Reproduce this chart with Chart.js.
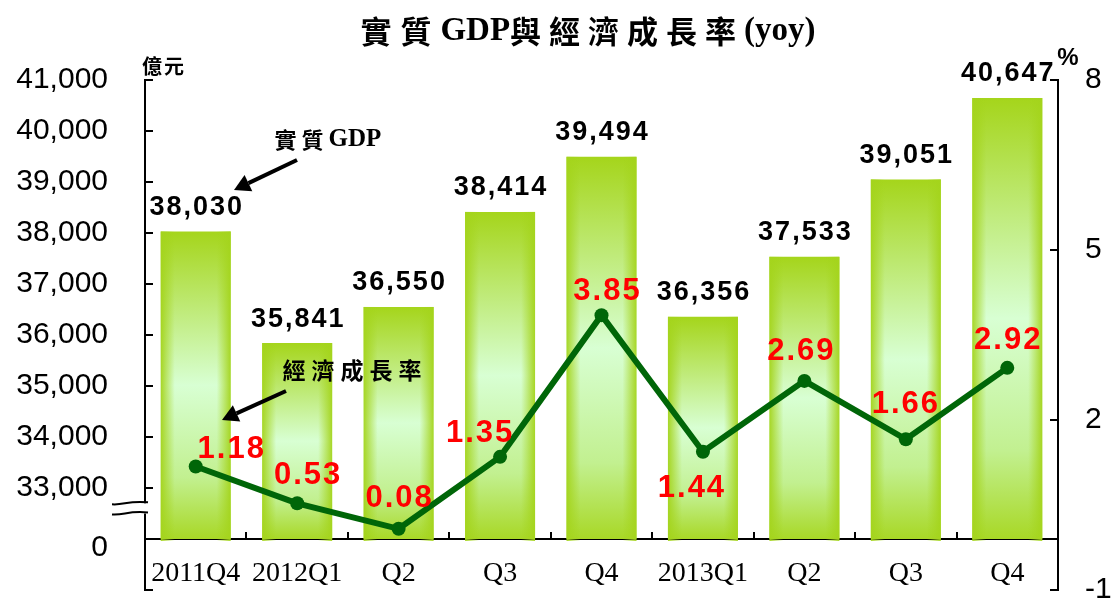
<!DOCTYPE html>
<html lang="zh-Hant">
<head>
<meta charset="UTF-8">
<title>實質GDP與經濟成長率(yoy)</title>
<script src="https://cdn.jsdelivr.net/npm/chart.js"></script>
<style>
    body { margin: 0; background: #ffffff; }
    #wrap { width: 1112px; height: 599px; }
</style>
</head>
<body>
<div id="wrap"><canvas id="gdpChart" width="1112" height="599"></canvas></div>
<script>
const quarters = ['2011Q4', '2012Q1', 'Q2', 'Q3', 'Q4', '2013Q1', 'Q2', 'Q3', 'Q4'];
const realGdp = [38030, 35841, 36550, 38414, 39494, 36356, 37533, 39051, 40647];   // 億元
const growthRate = [1.18, 0.53, 0.08, 1.35, 3.85, 1.44, 2.69, 1.66, 2.92];        // %
const gdpTicks = [33000, 34000, 35000, 36000, 37000, 38000, 39000, 40000, 41000];
const growthTicks = [-1, 2, 5, 8];
const gdpBase = 32000;    // the "0" line, axis is broken below 33,000
const zeroLabelAt = 31820;

// where each red growth label sits relative to its point (px)
const growthLabelOffsets = [[35, -17], [10, -28], [0, -30], [-21, -23], [5, -24], [-12, 37], [-4, -29], [-1, -35], [0, -27]];

const CJK = '"Noto Sans CJK TC", "Noto Sans CJK SC"';
const SERIF = '"Liberation Serif", "Times New Roman", serif';
const SANS = '"Liberation Sans", Arial, sans-serif';

function barFill(context) {
    const chart = context.chart;
    const y = chart.scales.y;
    if (!chart.chartArea || !y) return '#bde86a';
    const top = y.getPixelForValue(context.raw);
    const bottom = y.getPixelForValue(gdpBase);
    const g = chart.ctx.createLinearGradient(0, top, 0, bottom);
    g.addColorStop(0, '#a5d51b');
    g.addColorStop(0.5, '#d8ffd3');
    g.addColorStop(0.8, '#c2f090');
    g.addColorStop(1, '#a8d826');
    return g;
}

// darker green at the sides of each bar
const barShade = {
    id: 'barShade',
    afterDatasetDraw(chart, args) {
        if (args.meta.type !== 'bar') return;
        const ctx = chart.ctx;
        args.meta.data.forEach(bar => {
            const p = bar.getProps(['x', 'y', 'base', 'width'], true);
            const left = p.x - p.width / 2;
            const g = ctx.createLinearGradient(left, 0, left + p.width, 0);
            g.addColorStop(0, 'rgba(164,212,28,0.95)');
            g.addColorStop(0.2, 'rgba(164,212,28,0)');
            g.addColorStop(0.8, 'rgba(164,212,28,0)');
            g.addColorStop(1, 'rgba(164,212,28,0.95)');
            ctx.save();
            ctx.fillStyle = g;
            ctx.fillRect(left, p.y, p.width, p.base - p.y + 2);
            ctx.restore();
        });
    }
};

const valueLabels = {
    id: 'valueLabels',
    afterDatasetsDraw(chart) {
        const ctx = chart.ctx;
        ctx.save();
        ctx.textAlign = 'center';
        ctx.textBaseline = 'middle';

        ctx.fillStyle = '#000';
        ctx.font = 'bold 27px ' + SANS;
        ctx.letterSpacing = '2px';
        chart.getDatasetMeta(0).data.forEach((bar, i) => {
            ctx.fillText(realGdp[i].toLocaleString('en-US'), bar.x + 1, bar.y - 24);
        });

        ctx.fillStyle = '#ff0000';
        ctx.font = 'bold 31px ' + SANS;
        ctx.letterSpacing = '2px';
        chart.getDatasetMeta(1).data.forEach((pt, i) => {
            const off = growthLabelOffsets[i];
            ctx.fillText(growthRate[i].toFixed(2), pt.x + off[0] + 1, pt.y + off[1]);
        });
        ctx.restore();
    }
};

function arrow(ctx, x1, y1, x2, y2) {
    const a = Math.atan2(y2 - y1, x2 - x1);
    const len = 16, half = 9;
    const bx = x2 - len * Math.cos(a), by = y2 - len * Math.sin(a);
    ctx.beginPath();
    ctx.moveTo(x1, y1);
    ctx.lineTo(bx, by);
    ctx.lineWidth = 4;
    ctx.stroke();
    ctx.beginPath();
    ctx.moveTo(x2, y2);
    ctx.lineTo(bx + half * Math.sin(a), by - half * Math.cos(a));
    ctx.lineTo(bx - half * Math.sin(a), by + half * Math.cos(a));
    ctx.closePath();
    ctx.fill();
}

// text made of runs, each with its own font and letter spacing, centred on cx
function runs(ctx, parts, cx, cy) {
    let total = 0;
    parts.forEach(p => {
        ctx.font = p.font; ctx.letterSpacing = p.sp + 'px';
        p.w = ctx.measureText(p.text).width;
        total += p.w;
    });
    let px = cx - total / 2;
    ctx.textAlign = 'left';
    parts.forEach(p => {
        ctx.font = p.font; ctx.letterSpacing = p.sp + 'px';
        ctx.fillText(p.text, px, cy);
        px += p.w;
    });
    ctx.letterSpacing = '0px';
}

const decorations = {
    id: 'decorations',
    afterDraw(chart) {
        const ctx = chart.ctx;
        const area = chart.chartArea;
        const x = chart.scales.x, y = chart.scales.y, y1 = chart.scales.y1;
        ctx.save();
        ctx.strokeStyle = '#000';
        ctx.fillStyle = '#000';
        ctx.lineWidth = 2;

        // inward tick marks on both value axes
        [31000].concat(gdpTicks).forEach(v => {
            const py = Math.round(y.getPixelForValue(v));
            ctx.beginPath(); ctx.moveTo(area.left, py); ctx.lineTo(area.left + 8, py); ctx.stroke();
        });
        growthTicks.forEach(v => {
            const py = Math.round(y1.getPixelForValue(v));
            ctx.beginPath(); ctx.moveTo(area.right, py); ctx.lineTo(area.right - 8, py); ctx.stroke();
        });
        // category separators pointing up from the x axis
        const axisY = Math.round(y.getPixelForValue(gdpBase));
        for (let i = 1; i < quarters.length; i++) {
            const px = Math.round((x.getPixelForValue(i - 1) + x.getPixelForValue(i)) / 2);
            ctx.beginPath(); ctx.moveTo(px, axisY); ctx.lineTo(px, axisY - 7); ctx.stroke();
        }

        // axis break
        const b1 = y.getPixelForValue(32700), b2 = y.getPixelForValue(32500);
        ctx.fillStyle = '#fff';
        ctx.fillRect(area.left - 4, b1, 8, b2 - b1);
        ctx.fillStyle = '#000';
        [b1, b2].forEach(by => {
            ctx.beginPath();
            ctx.moveTo(112, by + 1);
            ctx.bezierCurveTo(124, by + 2, 128, by - 3, 148, by - 1);
            ctx.stroke();
        });

        ctx.textBaseline = 'middle';
        // title
        const tCjk = 'bold 31px ' + CJK;
        const tLat = 'bold 33px ' + SERIF;
        runs(ctx, [
            { text: '實質', font: tCjk, sp: 9 },
            { text: 'GDP', font: tLat, sp: 0 },
            { text: '與經濟成長率', font: tCjk, sp: 8 },
            { text: '(yoy)', font: tLat, sp: 0 }
        ], 588, 31);

        // units
        ctx.textAlign = 'center';
        ctx.letterSpacing = '2px';
        ctx.font = 'bold 20px ' + CJK;
        ctx.fillText('億元', 164, 66);
        ctx.letterSpacing = '0px';
        ctx.font = 'bold 24px ' + SANS;
        ctx.fillText('%', 1068, 58);

        // series call-outs
        runs(ctx, [
            { text: '實質', font: 'bold 22px ' + CJK, sp: 5 },
            { text: 'GDP', font: 'bold 25px ' + SERIF, sp: 0 }
        ], 328, 140);
        runs(ctx, [
            { text: '經濟成長率', font: 'bold 23px ' + CJK, sp: 6 }
        ], 355, 370);
        arrow(ctx, 297, 160, 234, 190);
        arrow(ctx, 286, 391, 222, 420);
        ctx.restore();
    }
};

// the value axes must span the full plot height, so drop the label overhang padding
function noEndPadding(scale, width) {
    scale.width = width;
    scale.paddingTop = 0;
    scale.paddingBottom = 0;
}

new Chart(document.getElementById('gdpChart'), {
    data: {
        labels: quarters,
        datasets: [
            {
                type: 'bar',
                label: '實質GDP',
                data: realGdp,
                yAxisID: 'y',
                base: gdpBase,
                backgroundColor: barFill,
                barPercentage: 0.69,
                categoryPercentage: 1,
                order: 2
            },
            {
                type: 'line',
                label: '經濟成長率',
                data: growthRate,
                yAxisID: 'y1',
                borderColor: '#006608',
                backgroundColor: '#006608',
                borderWidth: 6,
                pointRadius: 7,
                pointBackgroundColor: '#006608',
                pointBorderWidth: 0,
                tension: 0,
                order: 1
            }
        ]
    },
    options: {
        responsive: false,
        animation: false,
        layout: { padding: { top: 80, bottom: 9, left: 0, right: 0 } },
        plugins: {
            legend: { display: false },
            tooltip: { enabled: false },
            title: { display: false }
        },
        scales: {
            x: {
                position: { y: gdpBase },
                offset: true,
                grid: { display: false, drawTicks: false },
                border: { display: true, color: '#000', width: 2 },
                afterFit: scale => { scale.height = 0; },
                ticks: {
                    color: '#000',
                    padding: 18,
                    maxRotation: 0,
                    autoSkip: false,
                    font: { family: SERIF, size: 28 }
                }
            },
            y: {
                position: 'left',
                min: 31000,
                max: 41000,
                grid: { display: false, drawTicks: false },
                border: { display: true, color: '#000', width: 2 },
                afterBuildTicks: scale => {
                    scale.ticks = [zeroLabelAt].concat(gdpTicks).map(v => ({ value: v }));
                },
                afterFit: scale => noEndPadding(scale, 145),
                ticks: {
                    color: '#000',
                    padding: 37,
                    font: { family: SANS, size: 30 },
                    callback: v => v < 32500 ? '0' : v.toLocaleString('en-US')
                }
            },
            y1: {
                position: 'right',
                min: -1,
                max: 8,
                grid: { display: false, drawTicks: false },
                border: { display: true, color: '#000', width: 2 },
                afterBuildTicks: scale => {
                    scale.ticks = growthTicks.map(v => ({ value: v }));
                },
                afterFit: scale => noEndPadding(scale, 54),
                ticks: {
                    color: '#000',
                    padding: 27,
                    font: { family: SANS, size: 30 }
                }
            }
        }
    },
    plugins: [barShade, valueLabels, decorations]
});
</script>
</body>
</html>
